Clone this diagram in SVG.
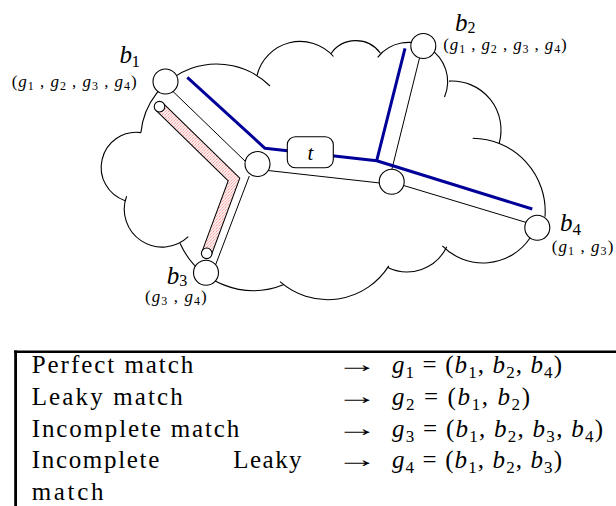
<svg xmlns="http://www.w3.org/2000/svg" width="616" height="506" viewBox="0 0 616 506">
<defs>
<pattern id="pink" width="3" height="3" patternUnits="userSpaceOnUse">
<rect width="3" height="3" fill="#feeaea"/>
<rect width="1" height="1" fill="#f3a0a0"/>
<rect x="2" y="1" width="1" height="1" fill="#f8c4c4"/>
<rect x="1" y="2" width="1" height="1" fill="#f6b4b4"/>
</pattern>
<style>
.cloud{fill:none;stroke:#000;stroke-width:1.1}
.ln{stroke:#000;stroke-width:1;fill:none}
.blue{stroke:#000099;stroke-width:3;fill:none;stroke-linejoin:round}
.nd{fill:#fff;stroke:#000;stroke-width:1.1}
.tx{fill:#000}
.it{font-style:italic}
.arr{font-family:"Liberation Serif",serif;font-size:24px;fill:#000}
</style>
</defs>
<rect width="616" height="506" fill="#fff"/>

<g id="cloud">
<path class="cloud" d="M140.9,132.6 A76,76 0 0 1 270,86"/>
<path class="cloud" d="M257,75.5 A44.4,44.4 0 0 1 333.5,56.5"/>
<path class="cloud" d="M330.7,54 A30.3,30.3 0 0 1 380.4,53.2"/>
<path class="cloud" d="M377.7,57.3 A39.2,39.2 0 0 1 444.5,97"/>
<path class="cloud" d="M449,81.1 A49,49 0 0 1 499.2,143.2"/>
<path class="cloud" d="M472.7,138.3 A73,73 0 0 1 545,216.7"/>
<path class="cloud" d="M530,238 A56.6,56.6 0 0 1 442.4,245.8"/>
<path class="cloud" d="M387.8,267.5 A43.9,43.9 0 0 0 446.7,246.7"/>
<path class="cloud" d="M280,281.7 A72.2,72.2 0 0 0 388.8,265.9"/>
<path class="cloud" d="M180,243.3 A80.6,80.6 0 0 0 284,284.5"/>
<path class="cloud" d="M126.6,196.2 A37.9,37.9 0 0 0 188.3,236.7"/>
<path class="cloud" d="M140.9,132.6 A35.1,35.1 0 0 0 125.2,200.7"/>
</g>

<g id="connectors">
<line class="ln" x1="172" x2="246" y1="90.5" y2="162"/>
<line class="ln" x1="249.3" y1="176" x2="214" y2="269"/>
<line class="ln" x1="268" y1="170.5" x2="380" y2="183"/>
<line class="ln" x1="420" y1="56" x2="391.7" y2="170"/>
<line class="ln" x1="402" y1="185" x2="528" y2="223"/>
<path class="blue" d="M187.3,77.3 L265,148.3 L376.7,160.7 L405,48.3 M376.7,160.7 L532.3,209"/>
</g>

<g id="pipe">
<path d="M159.5,106.7 L234,179.5 L206.7,253.3" fill="none" stroke="#000" stroke-width="11" stroke-linejoin="miter"/>
<path d="M159.5,106.7 L234,179.5 L206.7,253.3" fill="none" stroke="url(#pink)" stroke-width="9" stroke-linejoin="miter"/>
<circle class="nd" cx="159.5" cy="106.7" r="5.3"/>
<circle class="nd" cx="206.7" cy="253.3" r="5.3"/>
</g>

<g font-family="'Liberation Serif', 'Times New Roman', serif">
<g id="t">
<rect x="287.3" y="136.7" width="46" height="31" rx="8" fill="#fff" stroke="#000" stroke-width="1.1"/>
<text class="tx it" x="310.3" y="160" font-size="21" text-anchor="middle">t</text>
</g>

<g id="junction1"><circle class="nd" cx="257.5" cy="164" r="12.5"/></g>
<g id="junction2"><circle class="nd" cx="391.7" cy="181.7" r="12.5"/></g>

<g id="b1">
<circle class="nd" cx="165.5" cy="81.5" r="12.5"/>
<text class="tx it" x="119.5" y="63" font-size="25">b</text>
<text class="tx" x="131.5" y="66.5" font-size="17">1</text>
<text class="tx" x="11.7" y="86.5" font-size="17" textLength="125" lengthAdjust="spacing">(<tspan class="it">g</tspan><tspan font-size="12" dy="3">1</tspan><tspan dy="-3"> , </tspan><tspan class="it">g</tspan><tspan font-size="12" dy="3">2</tspan><tspan dy="-3"> , </tspan><tspan class="it">g</tspan><tspan font-size="12" dy="3">3</tspan><tspan dy="-3"> , </tspan><tspan class="it">g</tspan><tspan font-size="12" dy="3">4</tspan><tspan dy="-3">)</tspan></text>
</g>

<g id="b2">
<circle class="nd" cx="423.3" cy="46" r="12.5"/>
<text class="tx it" x="455" y="30.5" font-size="25">b</text>
<text class="tx" x="467.5" y="32.5" font-size="16">2</text>
<text class="tx" x="443.3" y="50" font-size="17" textLength="123.4" lengthAdjust="spacing">(<tspan class="it">g</tspan><tspan font-size="12" dy="3">1</tspan><tspan dy="-3"> , </tspan><tspan class="it">g</tspan><tspan font-size="12" dy="3">2</tspan><tspan dy="-3"> , </tspan><tspan class="it">g</tspan><tspan font-size="12" dy="3">3</tspan><tspan dy="-3"> , </tspan><tspan class="it">g</tspan><tspan font-size="12" dy="3">4</tspan><tspan dy="-3">)</tspan></text>
</g>

<g id="b3">
<circle class="nd" cx="206" cy="272.7" r="12.5"/>
<text class="tx it" x="166.7" y="283.5" font-size="25">b</text>
<text class="tx" x="179.3" y="286" font-size="16">3</text>
<text class="tx" x="145" y="302" font-size="17" textLength="61.7" lengthAdjust="spacing">(<tspan class="it">g</tspan><tspan font-size="12" dy="3">3</tspan><tspan dy="-3"> , </tspan><tspan class="it">g</tspan><tspan font-size="12" dy="3">4</tspan><tspan dy="-3">)</tspan></text>
</g>

<g id="b4">
<circle class="nd" cx="537.3" cy="227.7" r="12.5"/>
<text class="tx it" x="560" y="231" font-size="25">b</text>
<text class="tx" x="572.5" y="234.5" font-size="17">4</text>
<text class="tx" x="551.7" y="251.5" font-size="17" textLength="61.6" lengthAdjust="spacing">(<tspan class="it">g</tspan><tspan font-size="12" dy="3">1</tspan><tspan dy="-3"> , </tspan><tspan class="it">g</tspan><tspan font-size="12" dy="3">3</tspan><tspan dy="-3">)</tspan></text>
</g>

<g id="legend">
<line x1="14" y1="351.7" x2="616" y2="351.7" stroke="#000" stroke-width="2.6"/>
<line x1="15.6" y1="350.5" x2="15.6" y2="506" stroke="#000" stroke-width="2.8"/>
<text class="tx" x="31.7" y="373.3" font-size="25" textLength="161.6" lengthAdjust="spacing">Perfect match</text>
<text class="tx" x="31.7" y="405" font-size="25" textLength="151" lengthAdjust="spacing">Leaky match</text>
<text class="tx" x="31.7" y="436.7" font-size="25" textLength="207.6" lengthAdjust="spacing">Incomplete match</text>
<text class="tx" x="31.7" y="468.3" font-size="25" textLength="127.6" lengthAdjust="spacing">Incomplete</text>
<text class="tx" x="233.3" y="468.3" font-size="25" textLength="68.3" lengthAdjust="spacing">Leaky</text>
<text class="tx" x="31.7" y="499.5" font-size="25" textLength="71.7" lengthAdjust="spacing">match</text>
<text class="arr" transform="translate(336,372.3) scale(1.75,1)">→</text>
<text class="arr" transform="translate(336,404) scale(1.75,1)">→</text>
<text class="arr" transform="translate(336,435.7) scale(1.75,1)">→</text>
<text class="arr" transform="translate(336,467.3) scale(1.75,1)">→</text>
<text class="tx" x="392" y="373.3" font-size="25" textLength="170" lengthAdjust="spacing"><tspan class="it">g</tspan><tspan font-size="17" dy="5">1</tspan><tspan dy="-5"> = (</tspan><tspan class="it">b</tspan><tspan font-size="17" dy="5">1</tspan><tspan dy="-5">, </tspan><tspan class="it">b</tspan><tspan font-size="17" dy="5">2</tspan><tspan dy="-5">, </tspan><tspan class="it">b</tspan><tspan font-size="17" dy="5">4</tspan><tspan dy="-5">)</tspan></text>
<text class="tx" x="392" y="405" font-size="25" textLength="138" lengthAdjust="spacing"><tspan class="it">g</tspan><tspan font-size="17" dy="5">2</tspan><tspan dy="-5"> = (</tspan><tspan class="it">b</tspan><tspan font-size="17" dy="5">1</tspan><tspan dy="-5">, </tspan><tspan class="it">b</tspan><tspan font-size="17" dy="5">2</tspan><tspan dy="-5">)</tspan></text>
<text class="tx" x="392" y="436.7" font-size="25" textLength="211" lengthAdjust="spacing"><tspan class="it">g</tspan><tspan font-size="17" dy="5">3</tspan><tspan dy="-5"> = (</tspan><tspan class="it">b</tspan><tspan font-size="17" dy="5">1</tspan><tspan dy="-5">, </tspan><tspan class="it">b</tspan><tspan font-size="17" dy="5">2</tspan><tspan dy="-5">, </tspan><tspan class="it">b</tspan><tspan font-size="17" dy="5">3</tspan><tspan dy="-5">, </tspan><tspan class="it">b</tspan><tspan font-size="17" dy="5">4</tspan><tspan dy="-5">)</tspan></text>
<text class="tx" x="392" y="468.3" font-size="25" textLength="170" lengthAdjust="spacing"><tspan class="it">g</tspan><tspan font-size="17" dy="5">4</tspan><tspan dy="-5"> = (</tspan><tspan class="it">b</tspan><tspan font-size="17" dy="5">1</tspan><tspan dy="-5">, </tspan><tspan class="it">b</tspan><tspan font-size="17" dy="5">2</tspan><tspan dy="-5">, </tspan><tspan class="it">b</tspan><tspan font-size="17" dy="5">3</tspan><tspan dy="-5">)</tspan></text>
</g>
</g>
</svg>
